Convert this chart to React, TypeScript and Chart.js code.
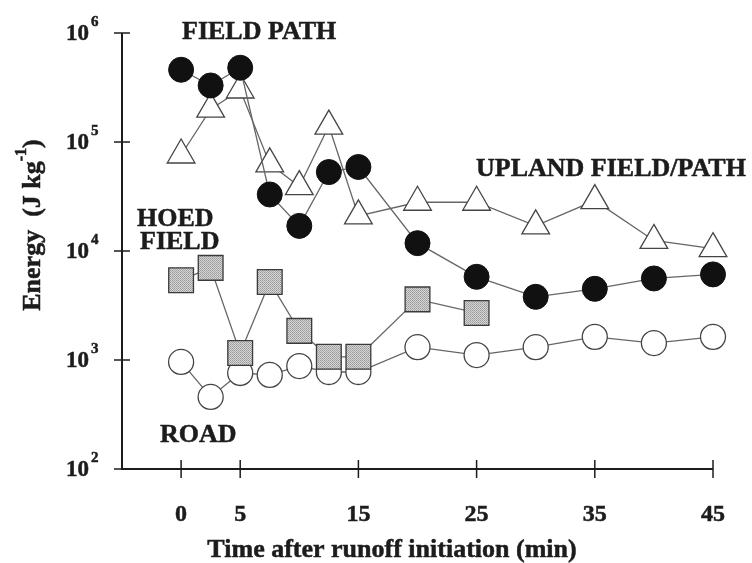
import React, { useEffect, useRef } from "react";
import { Chart, registerables } from "chart.js";

Chart.register(...registerables);

// ---- data ----
const times = [0, 2.5, 5, 7.5, 10, 12.5, 15, 20, 25, 30, 35, 40, 45];
const fieldPath = [4.6e5, 3.3e5, 4.8e5, 3.3e4, 1.7e4, 5.3e4, 5.9e4, 1.18e4, 5.8e3, 3.8e3, 4.5e3, 5.6e3, 6.1e3];
const uplandFieldPath = [7.6e4, 2.0e5, 3.0e5, 6.3e4, 3.9e4, 1.4e5, 2.1e4, 2.8e4, 2.8e4, 1.7e4, 2.9e4, 1.25e4, 1.05e4];
const hoedTimes = [0, 2.5, 5, 7.5, 10, 12.5, 15, 20, 25];
const hoedField = [5.4e3, 7.0e3, 1.16e3, 5.2e3, 1.85e3, 1.07e3, 1.07e3, 3.6e3, 2.7e3];
const road = [960, 458, 760, 730, 880, 776, 776, 1310, 1110, 1310, 1630, 1430, 1630];
const xTickLabels = [0, 5, 15, 25, 35, 45];
const yTickExponents = [2, 3, 4, 5, 6];
const seriesLabels = [
  { lines: ["FIELD PATH"], x: 182, y: 31 },
  { lines: ["UPLAND FIELD/PATH"], x: 476, y: 168 },
  { lines: ["HOED", "FIELD"], x: 137, y: 218 },
  { lines: ["ROAD"], x: 160, y: 434 },
];

const SERIF = '"Liberation Serif", "Times New Roman", serif';
const INK = "#1c1c1c";

function pts(xs: number[], ys: number[]) {
  return ys.map((y, i) => ({ x: xs[i], y }));
}

function heavyText(ctx: CanvasRenderingContext2D, t: string, x: number, y: number) {
  ctx.fillText(t, x, y);
  ctx.strokeText(t, x, y);
}

export default function App() {
  const ref = useRef<HTMLCanvasElement | null>(null);

  useEffect(() => {
    document.body.style.margin = "0";
    const canvas = ref.current;
    if (!canvas) return;

    const pc = document.createElement("canvas");
    pc.width = 2;
    pc.height = 2;
    const p = pc.getContext("2d")!;
    p.fillStyle = "#d6d6d6";
    p.fillRect(0, 0, 2, 2);
    p.fillStyle = "#999999";
    p.fillRect(0, 0, 1, 1);
    p.fillStyle = "#a8a8a8";
    p.fillRect(1, 1, 1, 1);
    const ctx0 = canvas.getContext("2d")!;
    const pattern = ctx0.createPattern(pc, "repeat")!;

    const decor = {
      id: "decor",
      beforeDatasetsDraw(chart: any) {
        const { ctx } = chart;
        const xs = chart.scales.x;
        const ys = chart.scales.y;
        const x0 = xs.getPixelForValue(-5);
        const x1 = xs.getPixelForValue(45);
        const yTop = ys.getPixelForValue(1e6);
        const yBot = ys.getPixelForValue(100);
        ctx.save();
        ctx.strokeStyle = INK;
        ctx.lineWidth = 2;
        ctx.beginPath();
        ctx.moveTo(x0, yTop);
        ctx.lineTo(x0, yBot);
        ctx.lineTo(x1, yBot);
        ctx.stroke();
        ctx.lineWidth = 1.5;
        yTickExponents.forEach((e) => {
          const y = ys.getPixelForValue(Math.pow(10, e));
          ctx.beginPath();
          ctx.moveTo(x0 - 8, y);
          ctx.lineTo(x0 + 8, y);
          ctx.stroke();
        });
        xTickLabels.forEach((v) => {
          const x = xs.getPixelForValue(v);
          ctx.beginPath();
          ctx.moveTo(x, yBot - 9);
          ctx.lineTo(x, yBot + 9);
          ctx.stroke();
        });
        ctx.restore();
      },
      afterDraw(chart: any) {
        const { ctx } = chart;
        const xs = chart.scales.x;
        const ys = chart.scales.y;
        const yBot = ys.getPixelForValue(100);
        ctx.save();
        ctx.fillStyle = INK;
        ctx.strokeStyle = INK;
        ctx.lineWidth = 0.5;
        // y tick labels
        yTickExponents.forEach((e) => {
          const y = ys.getPixelForValue(Math.pow(10, e));
          ctx.font = `bold 23px ${SERIF}`;
          ctx.textAlign = "right";
          ctx.textBaseline = "alphabetic";
          heavyText(ctx, "10", 89, y + 7);
          ctx.font = `bold 15px ${SERIF}`;
          ctx.textAlign = "left";
          heavyText(ctx, String(e), 91, y - 7);
        });
        // x tick labels
        ctx.font = `bold 24px ${SERIF}`;
        ctx.textAlign = "center";
        ctx.textBaseline = "alphabetic";
        xTickLabels.forEach((v) => {
          heavyText(ctx, String(v), xs.getPixelForValue(v), yBot + 52);
        });
        // x title
        ctx.font = `bold 26px ${SERIF}`;
        heavyText(ctx, "Time after runoff initiation (min)", 392, 557);
        // y title
        ctx.save();
        ctx.translate(32, 225);
        ctx.rotate(-Math.PI / 2);
        ctx.textAlign = "left";
        ctx.textBaseline = "alphabetic";
        const main = "Energy  (J kg";
        ctx.font = `bold 26px ${SERIF}`;
        const w1 = ctx.measureText(main).width;
        const w3 = ctx.measureText(")").width;
        ctx.font = `bold 16px ${SERIF}`;
        const w2 = ctx.measureText("-1").width;
        let cx = -(w1 + w2 + w3) / 2;
        ctx.font = `bold 26px ${SERIF}`;
        heavyText(ctx, main, cx, 8);
        cx += w1;
        ctx.font = `bold 16px ${SERIF}`;
        heavyText(ctx, "-1", cx, -6);
        cx += w2;
        ctx.font = `bold 26px ${SERIF}`;
        heavyText(ctx, ")", cx, 8);
        ctx.restore();
        // series labels
        ctx.font = `bold 26px ${SERIF}`;
        ctx.textAlign = "left";
        seriesLabels.forEach((l) => {
          l.lines.forEach((t, i) => {
            heavyText(ctx, t, l.x + (i === 1 ? 3 : 0), l.y + 8 + i * 23);
          });
        });
        ctx.restore();
      },
    };

    const lineColor = "#666666";
    const chart = new Chart(canvas, {
      type: "scatter",
      data: {
        datasets: [
          {
            label: "FIELD PATH",
            data: pts(times, fieldPath),
            showLine: true,
            borderColor: lineColor,
            borderWidth: 1.3,
            pointStyle: "circle",
            pointRadius: 12.5,
            pointBackgroundColor: "#111111",
            pointBorderColor: "#111111",
            pointBorderWidth: 1,
          },
          {
            label: "HOED FIELD",
            data: pts(hoedTimes, hoedField),
            showLine: true,
            borderColor: lineColor,
            borderWidth: 1.3,
            pointStyle: "rect",
            pointRadius: 17.5,
            pointBackgroundColor: pattern as any,
            pointBorderColor: "#3a3a3a",
            pointBorderWidth: 1.3,
          },
          {
            label: "UPLAND FIELD/PATH",
            data: pts(times, uplandFieldPath),
            showLine: true,
            borderColor: lineColor,
            borderWidth: 1.3,
            pointStyle: "triangle",
            pointRadius: 16,
            pointBackgroundColor: "#ffffff",
            pointBorderColor: "#444444",
            pointBorderWidth: 1.3,
          },
          {
            label: "ROAD",
            data: pts(times, road),
            showLine: true,
            borderColor: lineColor,
            borderWidth: 1.3,
            pointStyle: "circle",
            pointRadius: 12.5,
            pointBackgroundColor: "#ffffff",
            pointBorderColor: "#444444",
            pointBorderWidth: 1.3,
          },
        ],
      },
      options: {
        animation: false,
        responsive: true,
        maintainAspectRatio: false,
        layout: { autoPadding: false, padding: { left: 122, right: 39, top: 33, bottom: 94 } },
        plugins: { legend: { display: false }, tooltip: { enabled: false } },
        elements: { line: { tension: 0 } },
        datasets: { scatter: { clip: false } } as any,
        scales: {
          x: { type: "linear", min: -5, max: 45, display: false },
          y: { type: "logarithmic", min: 100, max: 1e6, display: false },
        },
      },
      plugins: [decor],
    });
    return () => chart.destroy();
  }, []);

  return (
    <div style={{ width: 752, height: 563, position: "relative", background: "#fff" }}>
      <canvas ref={ref} />
    </div>
  );
}
